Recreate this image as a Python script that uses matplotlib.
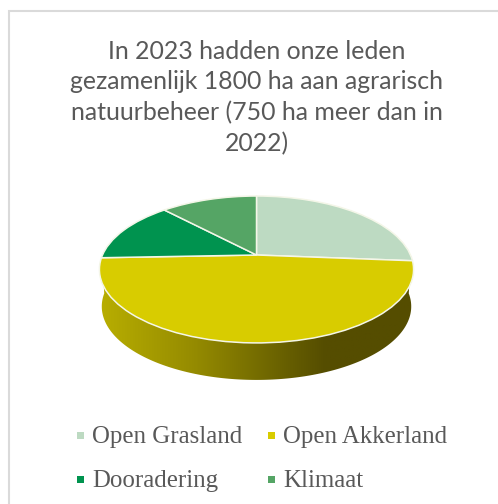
import numpy as np
import matplotlib
matplotlib.use("Agg")
import matplotlib.pyplot as plt
from matplotlib.patches import Rectangle, Polygon
from matplotlib.transforms import Transform
from matplotlib.colors import LinearSegmentedColormap

title = "In 2023 hadden onze leden\ngezamenlijk 1800 ha aan agrarisch\nnatuurbeheer (750 ha meer dan in\n2022)"
categories = ["Open Grasland", "Open Akkerland", "Dooradering", "Klimaat"]
values = [473, 866, 245, 216]
colors = ["#BDDAC2", "#D8CC00", "#00934F", "#55A565"]

W, H = 498, 504
CX, CY, A, B, K = 256.5, 255.0, 154.0, 70.6, 0.197

class Persp(Transform):
    input_dims = output_dims = 2
    has_inverse = False
    is_affine = False
    def transform_non_affine(self, v):
        v = np.asarray(v, float)
        w = 1 + K * v[:, 1]
        return np.column_stack([CX + A * v[:, 0] / w, CY - B * v[:, 1] / w])

fig = plt.figure(figsize=(W / 100, H / 100), dpi=100)
ax = fig.add_axes([0, 0, 1, 1])
wedges, _ = ax.pie(values, colors=colors, startangle=90, counterclock=False,
                   radius=1, center=(0, 0),
                   wedgeprops=dict(edgecolor="#F4F6E8", linewidth=1.1))
ax.set_aspect("auto")
ax.set_xlim(0, W)
ax.set_ylim(H, 0)
ax.axis("off")

persp = Persp()
for w in wedges:
    w.set_transform(persp + ax.transData)
    w.set_zorder(3)

# side wall of the disc, below the rim
t = np.linspace(np.pi + 0.02, 2 * np.pi - 0.02, 200)
rim = persp.transform_non_affine(np.column_stack([np.cos(t), np.sin(t)]))
DEPTH = 37
low = rim.copy()
low[:, 0] = CX + (low[:, 0] - CX) * 0.985
low[:, 1] += DEPTH
wall = Polygon(np.vstack([rim, low[::-1]]), closed=True, facecolor="none", edgecolor="none")
ax.add_patch(wall)
cmap = LinearSegmentedColormap.from_list(
    "wall", [(0, "#B8AE00"), (0.3, "#958B00"), (0.6, "#665E00"), (0.72, "#554D00"), (1, "#554D00")])
im = ax.imshow(np.linspace(0, 1, 256)[None, :], cmap=cmap, aspect="auto",
               extent=(100, 414, 400, 250), zorder=2)
im.set_clip_path(wall)
ax.set_xlim(0, W)
ax.set_ylim(H, 0)

# frame: only the top and left edges fall inside the crop
ax.plot([498, 9, 9], [11, 11, 504], color="#DADADA", linewidth=1.5, zorder=1, solid_joinstyle="miter")

ax.text(256.5, 97.5, title, ha="center", va="center", fontsize=17.9, color="#595959",
        family="Lato", linespacing=1.40)

# legend
pos = [(77, 443), (268, 443), (77, 487), (268, 487)]
for (x, y), c, lab in zip(pos, colors, categories):
    ax.add_patch(Rectangle((x, y - 11.5), 7, 7, facecolor=c, edgecolor="none"))
    ax.text(x + 15, y, lab, ha="left", va="baseline", fontsize=17.9, color="#595959",
            family="Liberation Serif")

fig.savefig("out.png", dpi=100)
